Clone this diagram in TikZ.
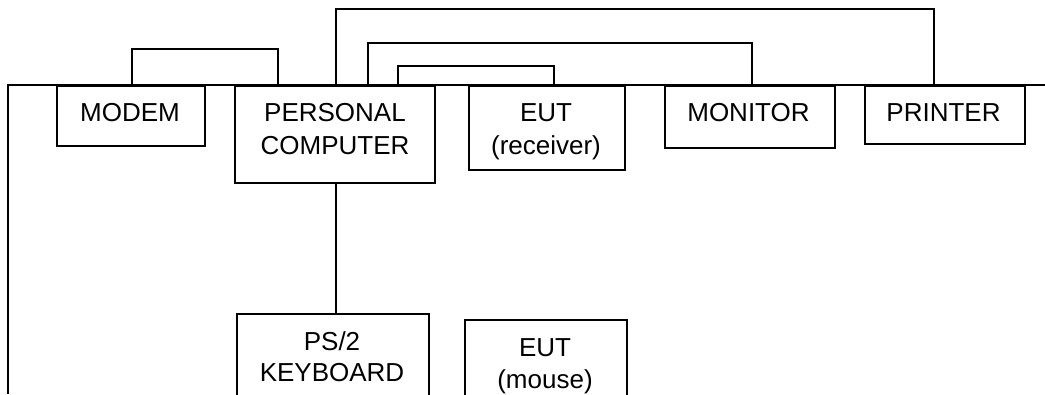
\documentclass[tikz,border=0pt]{standalone}
\usepackage{fontspec}
\setmainfont{Liberation Sans}
\begin{document}
\begin{tikzpicture}[x=1pt,y=-1pt,line width=1.8pt,
  box/.style={draw,rectangle,inner sep=0pt,anchor=north west},
  lbl/.style={anchor=base,inner sep=0pt,font=\fontsize{26}{31}\selectfont}]
\clip (0,0) rectangle (1045,394);
\fill[white] (0,0) rectangle (1045,394);
% bus
\coordinate (busB) at (8,394);
\coordinate (busC) at (8,85);
\coordinate (busR) at (1045,85);
\draw (busB) -- (busC) -- (busR);
% boxes
\node[box,minimum width=148.3pt,minimum height=60pt] (modem) at (55.7,85) {};
\node[box,minimum width=200pt,minimum height=97pt] (pc) at (234,85) {};
\node[box,minimum width=156.3pt,minimum height=84.3pt] (eutr) at (468,85) {};
\node[box,minimum width=170.6pt,minimum height=61.7pt] (monitor) at (663.7,85) {};
\node[box,minimum width=160.6pt,minimum height=58.3pt] (printer) at (863.7,85) {};
\node[box,minimum width=192pt,minimum height=120pt] (kbd) at (236,313) {};
\node[box,minimum width=162pt,minimum height=120pt] (mouse) at (464,319) {};
% labels
\node[lbl] (tmodem) at (130,121.7) {MODEM};
\node[lbl] (tpc1) at (335,121.7) {PERSONAL};
\node[lbl] (tpc2) at (335,154) {COMPUTER};
\node[lbl] (teut1) at (546,121.7) {EUT};
\node[lbl] (teut2) at (546,154) {(receiver)};
\node[lbl] (tmon) at (748.5,121.7) {MONITOR};
\node[lbl] (tprn) at (943.5,121.7) {PRINTER};
\node[lbl] (tkbd1) at (332,350) {PS/2};
\node[lbl] (tkbd2) at (332,381.7) {KEYBOARD};
\node[lbl] (tmou1) at (545,356) {EUT};
\node[lbl] (tmou2) at (545,388) {(mouse)};
% connectors
\draw ([xshift=76.3pt]modem.north west) -- ++(0,-36) -| ([xshift=44pt]pc.north west);
\draw ([xshift=102pt]pc.north west) -- ++(0,-75.7) -| ([xshift=70.6pt]printer.north west);
\draw ([xshift=134pt]pc.north west) -- ++(0,-41.7) -| ([xshift=88.6pt]monitor.north west);
\draw ([xshift=164pt]pc.north west) -- ++(0,-19.3) -| ([xshift=86pt]eutr.north west);
\draw ([xshift=102pt]pc.south west) -- ([xshift=102pt]pc.south west |- kbd.north);
\end{tikzpicture}
\end{document}
